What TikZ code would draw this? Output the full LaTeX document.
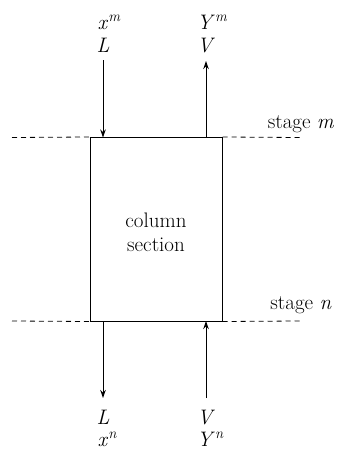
\documentclass[tikz,border=0pt]{standalone}
\usepackage{fontspec}
\setmainfont{Latin Modern Roman}
\usetikzlibrary{arrows.meta}
\newcommand{\sv}[2]{\textit{#1}\rlap{\textsuperscript{\itshape #2}}}
\begin{document}
\begin{tikzpicture}[x=1pt,y=-1pt,
  every node/.style={font=\fontsize{21}{24}\selectfont, inner sep=0pt},
  flow/.style={line width=1pt,-{Stealth[length=8pt,width=5.5pt]}},
  stageline/.style={line width=0.8pt,dash pattern=on 5pt off 4pt},
  lbl/.style={anchor=base}]
\useasboundingbox (0,0) rectangle (340,455);
% box
\node[draw,line width=1pt,minimum width=132pt,minimum height=183.5pt] (box) at (156,229.25) {};
\node[align=center,font=\fontsize{21}{24}\selectfont] (txt) at (156,232) {column\\section};
% stage lines
\coordinate (tl) at (12,137.5);
\coordinate (tr) at (300,137.5);
\coordinate (bl) at (12,321);
\coordinate (br) at (300,321);
\draw[stageline] (tl) -- (box.north west);
\draw[stageline] (box.north east) -- (tr);
\draw[stageline] (bl) -- (box.south west);
\draw[stageline] (box.south east) -- (br);
\node[lbl] (sm) at (301,128) {stage \textit{m}};
\node[lbl] (sn) at (301,309) {stage \textit{n}};
% top labels
\node[lbl] (xm) at (103,29) {\sv{x}{m}};
\node[lbl] (Lt) at (103,52) {\textit{L}};
\node[lbl] (Ym) at (206,29) {\sv{Y}{m}};
\node[lbl] (Vt) at (206,52) {\textit{V}};
% bottom labels
\node[lbl] (Lb) at (103,424) {\textit{L}};
\node[lbl] (xn) at (103,446) {\sv{x}{n}};
\node[lbl] (Vb) at (206,424) {\textit{V}};
\node[lbl] (Yn) at (206,446) {\sv{Y}{n}};
% arrows
\coordinate (a1s) at (103,60);
\coordinate (a1e) at (103,137.5);
\coordinate (a2s) at (206,137.5);
\coordinate (a2e) at (206,61);
\coordinate (a3s) at (103,321);
\coordinate (a3e) at (103,398);
\coordinate (a4s) at (206,398);
\coordinate (a4e) at (206,321);
\draw[flow] (a1s) -- (a1e);
\draw[flow] (a2s) -- (a2e);
\draw[flow] (a3s) -- (a3e);
\draw[flow] (a4s) -- (a4e);
\end{tikzpicture}
\end{document}
